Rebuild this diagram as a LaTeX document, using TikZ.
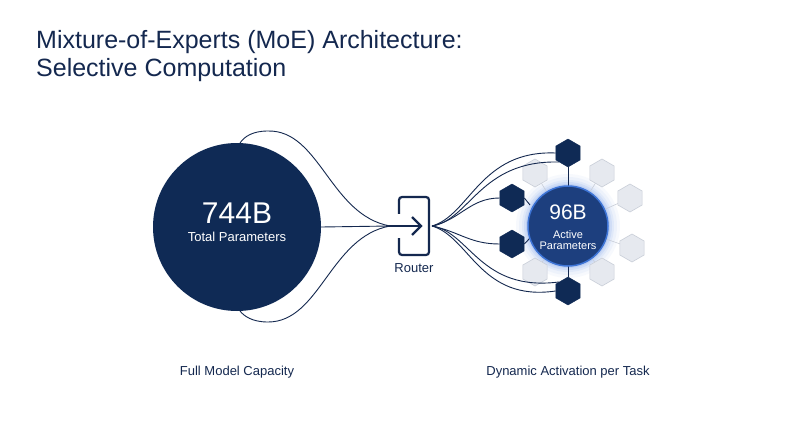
\documentclass[tikz,border=0pt]{standalone}
\usepackage{fontspec}
\setmainfont{Liberation Sans}
\usetikzlibrary{shapes.geometric}
\definecolor{navy}{HTML}{14284F}
\definecolor{deep}{HTML}{0F2A55}
\definecolor{mid}{HTML}{1D3F7E}
\definecolor{ring}{HTML}{3D74D6}
\definecolor{glow}{HTML}{6F9BEA}
\definecolor{lite}{HTML}{E6E9EF}
\definecolor{liteb}{HTML}{C9CED8}
\begin{document}
\begin{tikzpicture}[x=1pt,y=-1pt,
  hexd/.style={regular polygon,regular polygon sides=6,shape border rotate=30,minimum size=28pt,inner sep=0,fill=deep,draw=deep},
  hexl/.style={regular polygon,regular polygon sides=6,shape border rotate=30,minimum size=28pt,inner sep=0,fill=lite,draw=liteb,line width=0.6pt},
  wire/.style={draw=navy,line width=0.9pt},
  gwire/.style={draw=liteb,line width=0.6pt},
  lbl/.style={text=navy,font=\fontsize{13}{15}\selectfont}]
\useasboundingbox (0,0) rectangle (800,447);
\fill[white] (0,0) rectangle (800,447);
\node[anchor=north west,align=left,text=navy,font=\fontsize{25}{28}\selectfont,inner sep=0] (title) at (36,30) {Mixture-of-Experts (MoE) Architecture:\\Selective Computation};
% big circle
\node[circle,fill=deep,minimum size=168pt,inner sep=0] (big) at (237,227) {};
\node[text=white,font=\fontsize{30}{32}\selectfont] (n744) at (237,213) {744B};
\node[text=white,font=\fontsize{13}{15}\selectfont] (tp) at (237,237) {Total Parameters};
% router
\node[draw=navy,line width=2.2pt,rounded corners=3pt,minimum width=30pt,minimum height=58pt] (router) at (414,226) {};
\coordinate (rin) at (390,226);
\coordinate (rout) at (432,226);
\fill[white] (397,214) rectangle (402,238);
\draw[navy,line width=2.4pt] (386,226) -- (420,226);
\draw[navy,line width=2.4pt] (412,217) -- (421,226) -- (412,235);
\node[lbl] (rl) at (414,268) {Router};
% left wires
\coordinate (bt) at (240,143);
\coordinate (bb) at (240,311);
\draw[wire] (big.east) -- (rin);
\draw[wire] (rin) .. controls (330,215) and (320,130) .. (268,131) .. controls (252,131) and (244,137) .. (bt);
\draw[wire] (rin) .. controls (330,237) and (320,322) .. (268,322) .. controls (252,322) and (244,316) .. (bb);
% glow
\foreach \r/\o in {52/0.05,49/0.07,46/0.1,44/0.14,42/0.2}{\fill[glow,opacity=\o] (568,226) circle (\r);}
% light hexes and gray wires
\coordinate (sc) at (568,226);
\foreach \n/\x/\y in {l1/535/173,l2/602/173,l3/630/198,l4/632/248,l5/602/272,l6/535/272}{
  \draw[gwire] (sc) -- (\x,\y);
  \node[hexl] (\n) at (\x,\y) {};
}
% dark hexes
\node[hexd] (d1) at (568,153) {};
\node[hexd] (d2) at (512,198) {};
\node[hexd] (d3) at (512,244) {};
\node[hexd] (d4) at (568,291) {};
\draw[wire] (d1) -- (sc);
\draw[wire] (d4) -- (sc);
\draw[wire] (d2.east) -- (530,205);
\draw[wire] (d3.east) -- (530,238);
% small circle
\node[circle,fill=mid,draw=ring,line width=1.5pt,minimum size=80pt,inner sep=0] (small) at (568,226) {};
\node[text=white,font=\fontsize{21}{23}\selectfont] (n96) at (568,212) {96B};
\node[text=white,font=\fontsize{11}{13}\selectfont,align=center] (ap) at (568,240) {Active\\[-2pt]Parameters};
% right wires
\draw[wire] (rout) .. controls (470,215) and (480,150) .. (d1.west);
\draw[wire] (rout) .. controls (470,220) and (480,160) .. (d1.south west);
\draw[wire] (rout) .. controls (460,220) and (470,198) .. (d2.west);
\draw[wire] (rout) .. controls (460,232) and (470,244) .. (d3.west);
\draw[wire] (rout) .. controls (470,237) and (480,302) .. (d4.west);
\draw[wire] (rout) .. controls (470,232) and (480,292) .. (d4.north west);
% bottom labels
\node[lbl] (fm) at (237,372) {Full Model Capacity};
\node[lbl] (da) at (568,372) {Dynamic Activation per Task};
\end{tikzpicture}
\end{document}
